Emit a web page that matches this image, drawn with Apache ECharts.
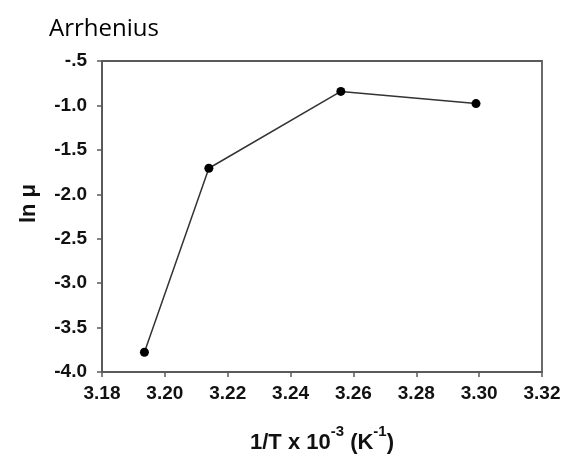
<!DOCTYPE html>
<html>
<head>
<meta charset="utf-8">
<script src="https://cdn.jsdelivr.net/npm/echarts@6/dist/echarts.min.js"></script>
<style>html,body{margin:0;padding:0;background:#fff;}#c{width:572px;height:459px;}</style>
</head>
<body>
<div id="c"></div>
<script>
const invT = [3.1935, 3.2140, 3.2560, 3.2990];
const lnMu = [-3.778, -1.707, -0.842, -0.979];
const xTicks = [3.18, 3.20, 3.22, 3.24, 3.26, 3.28, 3.30, 3.32];
const yTicks = [-4.0, -3.5, -3.0, -2.5, -2.0, -1.5, -1.0, -0.5];

const chart = echarts.init(document.getElementById('c'));
const axisCol = '#5a5a5a';
const FF = 'Liberation Sans, Arial, sans-serif';
const lblFont = {fontFamily: FF, fontWeight: 'bold', fontSize: 19, color: '#111'};
chart.setOption({
  animation: false,
  title: {
    text: 'Arrhenius', left: 44, top: 12,
    textStyle: {fontFamily: 'Open Sans, Noto Sans, sans-serif', fontWeight: 'normal', fontSize: 24, color: '#000'}
  },
  grid: {left: 102, right: 30, top: 61, bottom: 82, show: true, borderColor: axisCol, borderWidth: 1.8, backgroundColor: 'transparent'},
  xAxis: {
    type: 'value', min: 3.18, max: 3.32, interval: 0.02,
    axisLine: {show: true, lineStyle: {color: axisCol, width: 1.8}},
    axisTick: {show: true, inside: false, length: 5, lineStyle: {color: axisCol, width: 1.5}},
    splitLine: {show: false},
    axisLabel: Object.assign({margin: 12, formatter: v => v.toFixed(2)}, lblFont),
    name: '{a|1/T x 10}{s|-3}{a| (K}{s|-1}{a|)}',
    nameLocation: 'middle', nameGap: 52,
    nameTextStyle: {
      rich: {
        a: {fontFamily: FF, fontWeight: 'bold', fontSize: 22, color: '#111', lineHeight: 30, verticalAlign: 'bottom'},
        s: {fontFamily: FF, fontWeight: 'bold', fontSize: 15, color: '#111', lineHeight: 30, verticalAlign: 'top'}
      }
    }
  },
  yAxis: {
    type: 'value', min: -4.0, max: -0.5, interval: 0.5,
    axisLine: {show: true, lineStyle: {color: axisCol, width: 1.8}},
    axisTick: {show: true, inside: false, length: 5, lineStyle: {color: axisCol, width: 1.5}},
    splitLine: {show: false},
    axisLabel: Object.assign({margin: 15, formatter: v => {
      let s = v.toFixed(1);
      if (s === '-0.5') s = '-.5';
      return s;
    }}, lblFont),
    name: 'ln μ', nameLocation: 'middle', nameGap: 62, nameRotate: 90,
    nameTextStyle: {fontFamily: FF, fontWeight: 'bold', fontSize: 22, color: '#111', padding: [0, 0, 0, 26]}
  },
  series: [{
    type: 'line',
    data: invT.map((x, i) => [x, lnMu[i]]),
    symbol: 'circle', symbolSize: 9,
    itemStyle: {color: '#000'},
    lineStyle: {color: '#333', width: 1.5}
  }]
});
</script>
</body>
</html>
